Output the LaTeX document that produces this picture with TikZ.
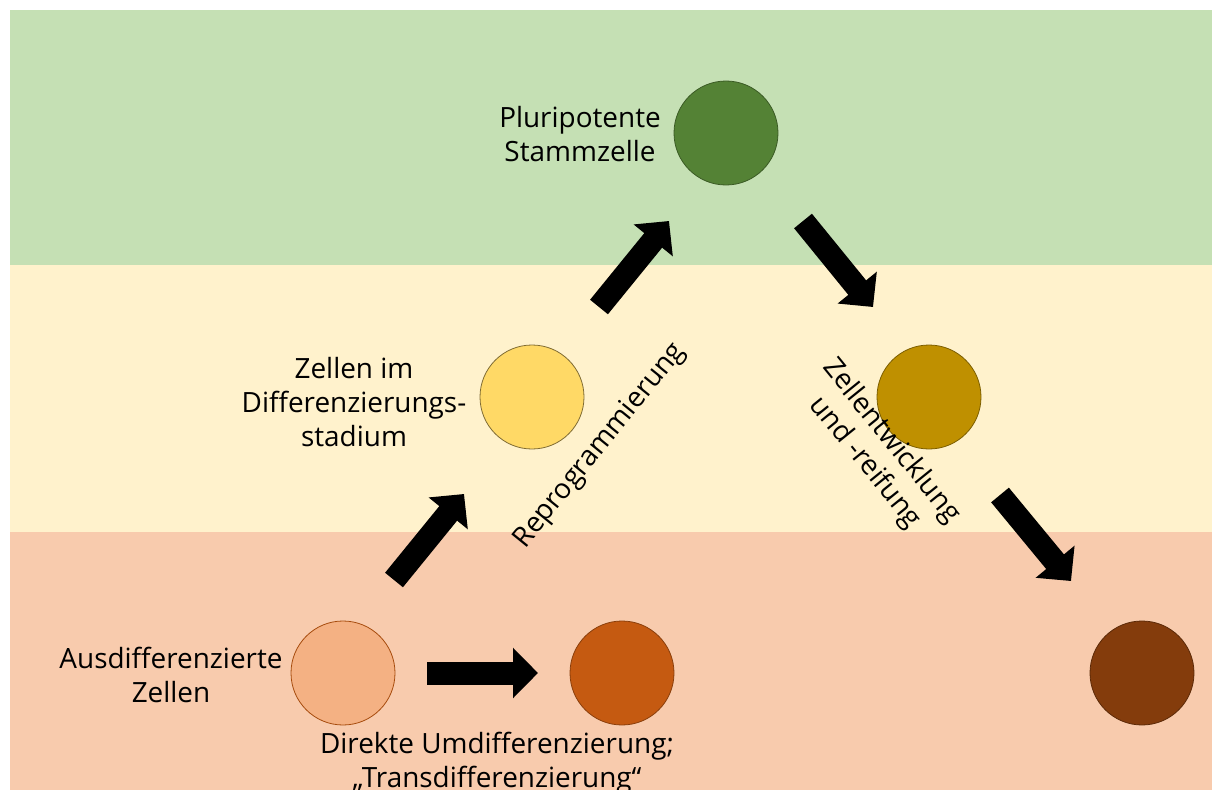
\documentclass[tikz,border=0pt]{standalone}
\usepackage{fontspec}
\setmainfont{Open Sans}
\usetikzlibrary{arrows.meta}
\definecolor{bgGreen}{HTML}{C5E0B4}
\definecolor{bgYellow}{HTML}{FFF2CC}
\definecolor{bgSalmon}{HTML}{F8CBAD}
\definecolor{cGreen}{HTML}{548235}
\definecolor{cYellow}{HTML}{FFD966}
\definecolor{cGold}{HTML}{BF9000}
\definecolor{cSalmon}{HTML}{F4B183}
\definecolor{cOrange}{HTML}{C55A11}
\definecolor{cBrown}{HTML}{843C0C}
\begin{document}
\begin{tikzpicture}[x=1bp,y=-1bp,
  cell/.style={circle,minimum size=104bp,inner sep=0pt,line width=0.8bp},
  lbl/.style={align=center,font=\fontsize{28}{34}\selectfont,inner sep=0pt},
  blockarrow/.style={line width=23bp,-{Triangle[length=25bp,width=49bp]}}]
\useasboundingbox (0,0) rectangle (1212,790);
\fill[bgGreen] (10,10) rectangle (1212,265);
\fill[bgYellow] (10,265) rectangle (1212,532);
\fill[bgSalmon] (10,532) rectangle (1212,790);
\begin{scope}
\clip (0,0) rectangle (1212,790);
% cells
\node[cell,fill=cGreen,draw=cGreen!70!black] (plu) at (726,133) {};
\node[cell,fill=cYellow,draw=cYellow!50!black] (diff) at (532,397) {};
\node[cell,fill=cGold,draw=cGold!65!black] (gold) at (929,397) {};
\node[cell,fill=cSalmon,draw=cOrange!85!black] (aus) at (343,673) {};
\node[cell,fill=cOrange,draw=cOrange!70!black] (trans) at (622,673) {};
\node[cell,fill=cBrown,draw=cBrown!70!black] (mat) at (1142,673) {};
% labels
\node[lbl] (tplu) at (580,134) {Pluripotente\\Stammzelle};
\node[lbl] (tdiff) at (354,402) {Zellen im\\Differenzierungs-\\stadium};
\node[lbl] (taus) at (171,675) {Ausdifferenzierte\\Zellen};
\node[lbl] (ttrans) at (497,763) {Direkte Umdifferenzierung;\\„Transdifferenzierung“};
\node[lbl,rotate=51] (trep) at (600,446) {Reprogrammierung};
\node[lbl,rotate=-51] (tent) at (878,452) {Zellentwicklung\\und -reifung};
% arrow anchor coordinates
\coordinate (a1s) at (394,580); \coordinate (a1e) at (464,494);
\coordinate (a2s) at (599,307); \coordinate (a2e) at (669,221);
\coordinate (a3s) at (803,221); \coordinate (a3e) at (873,307);
\coordinate (a4s) at (1000,495); \coordinate (a4e) at (1071,581);
\coordinate (a5s) at (427,673); \coordinate (a5e) at (538,673);
\draw[blockarrow] (a1s) -- (a1e);
\draw[blockarrow] (a2s) -- (a2e);
\draw[blockarrow] (a3s) -- (a3e);
\draw[blockarrow] (a4s) -- (a4e);
\draw[blockarrow] (a5s) -- (a5e);
\end{scope}
\end{tikzpicture}
\end{document}
